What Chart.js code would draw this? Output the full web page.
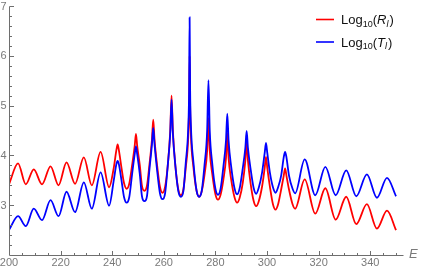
<!DOCTYPE html>
<html>
<head>
<meta charset="utf-8">
<script src="https://cdn.jsdelivr.net/npm/chart.js@4.4.1/dist/chart.umd.min.js"></script>
<style>
  html, body { margin: 0; padding: 0; background: #fff; }
</style>
</head>
<body>
<canvas id="chart" width="421" height="272"></canvas>
<script>
// energy samples: peaks, troughs, and shoulders around the sharp resonances
const energy = [
  200, 203.5, 206.5, 209.6, 212.8, 216.1, 219.2, 222.3, 225.6, 229.0, 232.1, 235.5, 238.8,
  240.6, 241.6, 242.1, 242.6, 243.6, 244.6, 245.6, 246.6,
  247.7, 248.7, 249.2, 249.7, 250.7, 251.5, 252.5, 253.5,
  254.4, 255.4, 255.9, 256.4, 257.4, 258.5, 259.5, 260.5,
  261.5, 262.5, 263.0, 263.5, 264.5, 265.6, 266.6, 267.6,
  268.5, 269.5, 269.8, 270.0, 270.2, 270.5, 271.5, 272.7, 273.7, 274.7,
  275.8, 276.8, 277.3, 277.8, 278.8, 280.0, 281.0, 282.0,
  283.1, 284.1, 284.6, 285.1, 286.1, 287.4, 288.4, 289.4,
  290.6, 291.6, 292.1, 292.6, 293.6, 294.8, 295.8, 296.8,
  298.1, 299.1, 299.6, 300.1, 301.1, 302.3, 303.3, 304.3,
  305.5, 306.5, 307.0, 307.5, 308.5, 309.9, 310.9,
  314.6, 318.7, 322.6, 326.6, 330.7, 334.6, 338.7, 342.6, 346.5, 350
];

// Log10(R_l)
const logR = [
  3.42, 3.84, 3.42, 3.72, 3.42, 3.78, 3.40, 3.86, 3.43, 3.96, 3.40, 4.07, 3.36,
  3.75, 4.10, 4.22, 4.10, 3.75, 3.44, 3.33, 3.43,
  3.80, 4.18, 4.43, 4.18, 3.80, 3.40, 3.29, 3.40,
  3.80, 4.32, 4.72, 4.32, 3.80, 3.37, 3.25, 3.37,
  3.78, 4.50, 5.20, 4.50, 3.78, 3.32, 3.20, 3.32,
  3.75, 4.40, 5.00, 6.00, 5.00, 4.40, 3.75, 3.29, 3.17, 3.28,
  3.62, 4.10, 4.75, 4.10, 3.62, 3.22, 3.11, 3.21,
  3.52, 3.95, 4.45, 3.95, 3.52, 3.16, 3.05, 3.15,
  3.45, 3.90, 4.27, 3.90, 3.45, 3.09, 2.98, 3.08,
  3.38, 3.75, 3.97, 3.75, 3.38, 3.02, 2.91, 3.02,
  3.32, 3.60, 3.74, 3.60, 3.32, 3.02, 2.93,
  3.52, 2.83, 3.34, 2.71, 3.17, 2.62, 3.02, 2.53, 2.89, 2.50
];

// Log10(T_l)
const logT = [
  2.50, 2.78, 2.58, 2.93, 2.70, 3.10, 2.78, 3.27, 2.86, 3.46, 2.93, 3.66, 2.99,
  3.50, 3.82, 3.89, 3.82, 3.50, 3.16, 3.05, 3.16,
  3.62, 4.02, 4.18, 4.02, 3.62, 3.19, 3.08, 3.19,
  3.70, 4.22, 4.55, 4.22, 3.70, 3.24, 3.12, 3.24,
  3.78, 4.45, 5.12, 4.45, 3.78, 3.29, 3.17, 3.29,
  3.85, 4.60, 5.30, 6.77, 5.30, 4.60, 3.85, 3.29, 3.17, 3.29,
  3.82, 4.50, 5.51, 4.50, 3.82, 3.33, 3.21, 3.33,
  3.78, 4.30, 4.84, 4.30, 3.78, 3.34, 3.22, 3.34,
  3.74, 4.15, 4.49, 4.15, 3.74, 3.35, 3.23, 3.35,
  3.66, 4.05, 4.25, 4.05, 3.66, 3.36, 3.25, 3.36,
  3.60, 3.97, 4.07, 3.97, 3.60, 3.33, 3.24,
  3.92, 3.20, 3.77, 3.20, 3.70, 3.18, 3.62, 3.15, 3.55, 3.18
];

const xTicks = [200, 220, 240, 260, 280, 300, 320, 340];
const yTicks = [3, 4, 5, 6, 7];
const xMinorStep = 5;
const yMinorStep = 0.2;
const xRange = [200, 352.7];
const yRange = [2, 7];

const FONT = '"Liberation Sans", Arial, sans-serif';
const AXIS_COLOR = '#6e6e6e';
const LABEL_COLOR = '#7a7a7a';

// Mathematica-style axes: ticks point into the plot, no frame
const axesPlugin = {
  id: 'mmaAxes',
  afterDraw(chart) {
    const { ctx, scales: { x, y } } = chart;
    const px = v => Math.round(x.getPixelForValue(v)) + 0.5;
    const py = v => Math.round(y.getPixelForValue(v)) + 0.5;
    const ax = px(xRange[0]), ay = py(yRange[0]);

    ctx.save();
    ctx.strokeStyle = AXIS_COLOR;
    ctx.lineWidth = 1;
    ctx.beginPath();
    ctx.moveTo(ax, ay); ctx.lineTo(px(xRange[1]), ay);
    ctx.moveTo(ax, ay); ctx.lineTo(ax, py(yRange[1]));

    // x ticks
    for (let v = xRange[0] + xMinorStep; v <= xRange[1]; v += xMinorStep) {
      const major = xTicks.includes(v);
      ctx.moveTo(px(v), ay); ctx.lineTo(px(v), ay - (major ? 4.5 : 2.5));
    }
    // y ticks
    for (let i = 1; yRange[0] + i * yMinorStep <= yRange[1] + 1e-9; i++) {
      const v = +(yRange[0] + i * yMinorStep).toFixed(2);
      const major = yTicks.includes(v);
      ctx.moveTo(ax, py(v)); ctx.lineTo(ax + (major ? 4.5 : 2.5), py(v));
    }
    ctx.stroke();

    ctx.fillStyle = LABEL_COLOR;
    ctx.font = '11px ' + FONT;
    ctx.textAlign = 'center';
    ctx.textBaseline = 'middle';
    xTicks.forEach(v => ctx.fillText(String(v), x.getPixelForValue(v), 263));
    ctx.textAlign = 'right';
    yTicks.forEach(v => ctx.fillText(String(v), 6.5, y.getPixelForValue(v) + 0.5));

    // axis label
    ctx.font = 'italic 13px ' + FONT;
    ctx.textAlign = 'left';
    ctx.fillText('E', 409, 254);

    // legend
    drawLegendRow(ctx, 19.5, '#ff0000', 'R');
    drawLegendRow(ctx, 42, '#0000ff', 'T');
    ctx.restore();
  }
};

function drawLegendRow(ctx, yMid, color, letter) {
  ctx.strokeStyle = color;
  ctx.lineWidth = 1.6;
  ctx.beginPath();
  ctx.moveTo(316, yMid); ctx.lineTo(334, yMid);
  ctx.stroke();

  const base = yMid + 4.6;
  let x = 341;
  ctx.fillStyle = '#111';
  ctx.textAlign = 'left';
  ctx.textBaseline = 'alphabetic';
  const parts = [
    ['Log', '13px ' + FONT, 0],
    ['10', '9px ' + FONT, 2.5],
    ['(', '13px ' + FONT, 0],
    [letter, 'italic 13px ' + FONT, 0],
    ['l', 'italic 9px ' + FONT, 2.5],
    [')', '13px ' + FONT, 0]
  ];
  parts.forEach(([t, f, dy]) => {
    ctx.font = f;
    ctx.fillText(t, x, base + dy);
    x += ctx.measureText(t).width + (t === 'l' ? 1 : 0);
  });
}

new Chart(document.getElementById('chart'), {
  type: 'line',
  data: {
    datasets: [
      {
        label: 'Log10(Rl)',
        data: energy.map((e, i) => ({ x: e, y: logR[i] })),
        borderColor: '#ff0000',
        borderWidth: 1.8,
        pointRadius: 0,
        cubicInterpolationMode: 'monotone',
        order: 2
      },
      {
        label: 'Log10(Tl)',
        data: energy.map((e, i) => ({ x: e, y: logT[i] })),
        borderColor: '#0000ff',
        borderWidth: 1.8,
        pointRadius: 0,
        cubicInterpolationMode: 'monotone',
        order: 1
      }
    ]
  },
  options: {
    responsive: false,
    animation: false,
    layout: { padding: { left: 9, right: 18, top: 6, bottom: 17 } },
    plugins: { legend: { display: false }, tooltip: { enabled: false } },
    scales: {
      x: { type: 'linear', display: false, min: xRange[0], max: xRange[1] },
      y: { type: 'linear', display: false, min: yRange[0], max: yRange[1] }
    }
  },
  plugins: [axesPlugin]
});
</script>
</body>
</html>
